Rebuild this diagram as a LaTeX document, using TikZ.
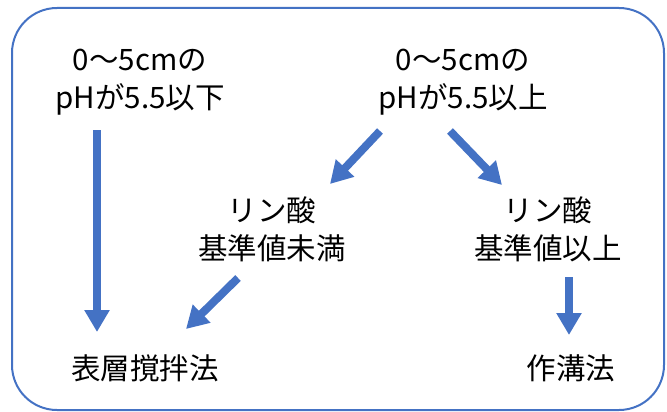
\documentclass[tikz,border=0pt]{standalone}
\usepackage{fontspec}
\setmainfont{Noto Sans CJK JP}
\usetikzlibrary{arrows.meta}
\definecolor{ablue}{HTML}{4472C4}
\tikzset{
  lbl/.style={align=center, font=\fontsize{29.5}{38}\selectfont, inner sep=0pt},
  flow/.style={draw=ablue, line width=8pt, -{Triangle[width=24pt,length=22pt]}}
}
\begin{document}
\begin{tikzpicture}[x=1pt,y=-1pt]
\useasboundingbox (0,0) rectangle (667,412);
\draw[ablue, line width=2pt, rounded corners=45pt] (12,8) rectangle (664,410);
\node[lbl] (tl) at (140,82) {0〜5cmの\\pHが5.5以下};
\node[lbl] (tr) at (463,82) {0〜5cmの\\pHが5.5以上};
\node[lbl] (ml) at (272,229) {リン酸\\基準値未満};
\node[lbl] (mr) at (548,229) {リン酸\\基準値以上};
\node[lbl] (bl) at (145,368) {表層撹拌法};
\node[lbl] (br) at (571,368) {作溝法};
\coordinate (a1s) at (97,130);
\coordinate (a1e) at (97,332);
\coordinate (a2s) at (380,131);
\coordinate (a2e) at (330,184);
\coordinate (a3s) at (450,131);
\coordinate (a3e) at (502,185);
\coordinate (a4s) at (238,278);
\coordinate (a4e) at (186,329);
\coordinate (a5s) at (569,277);
\coordinate (a5e) at (569,335);
\draw[flow] (a1s) -- (a1e);
\draw[flow] (a2s) -- (a2e);
\draw[flow] (a3s) -- (a3e);
\draw[flow] (a4s) -- (a4e);
\draw[flow] (a5s) -- (a5e);
\end{tikzpicture}
\end{document}
